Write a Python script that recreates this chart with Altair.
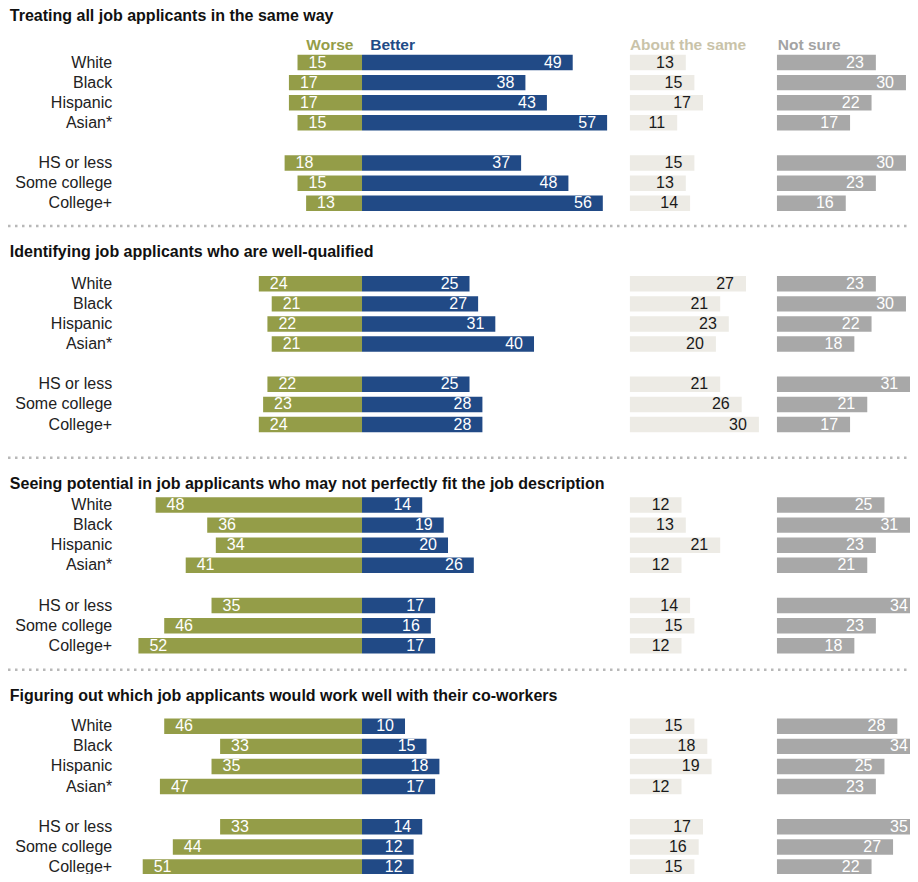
import altair as alt
import pandas as pd

# ---------------- data ----------------
SECTIONS = [
    "Treating all job applicants in the same way",
    "Identifying job applicants who are well-qualified",
    "Seeing potential in job applicants who may not perfectly fit the job description",
    "Figuring out which job applicants would work well with their co-workers",
]
GROUPS = ["White", "Black", "Hispanic", "Asian*", "HS or less", "Some college", "College+"]

WORSE = [
    [15, 17, 17, 15, 18, 15, 13],
    [24, 21, 22, 21, 22, 23, 24],
    [48, 36, 34, 41, 35, 46, 52],
    [46, 33, 35, 47, 33, 44, 51],
]
BETTER = [
    [49, 38, 43, 57, 37, 48, 56],
    [25, 27, 31, 40, 25, 28, 28],
    [14, 19, 20, 26, 17, 16, 17],
    [10, 15, 18, 17, 14, 12, 12],
]
ABOUT_SAME = [
    [13, 15, 17, 11, 15, 13, 14],
    [27, 21, 23, 20, 21, 26, 30],
    [12, 13, 21, 12, 14, 15, 12],
    [15, 18, 19, 12, 17, 16, 15],
]
NOT_SURE = [
    [23, 30, 22, 17, 30, 23, 16],
    [23, 30, 22, 18, 31, 21, 17],
    [25, 31, 23, 21, 34, 23, 18],
    [28, 34, 25, 23, 35, 27, 22],
]
HEADERS = ["Worse", "Better", "About the same", "Not sure"]

# ---------------- layout (half-row slot units / percentage units) ----------------
SECTION_BASE = [0, 22, 44, 66]
ROW_OFFSET = [0, 2, 4, 6, 10, 12, 14]
TITLE_OFFSET = [-4.63, -3.18, -2.13, -3.04]
HEADER_SLOT = -1.77
SEPARATOR_SLOTS = [16.26, 39.31, 60.39]
HALF_BAR = 0.77

XMIN, XMAX = -82.33, 127.44
YMIN, YMAX = -5.42, 80.69
ABOUT_START = 62.3
NOTSURE_START = 96.5
LABEL_X = -58.1
TITLE_X = -81.9

GREEN = "#949D48"
BLUE = "#214A86"
BEIGE = "#EDEBE5"
GRAY = "#A8A8A8"
FONT = "Liberation Sans"

W, H = 902, 866

rows = []
for s in range(4):
    for i, g in enumerate(GROUPS):
        a = ABOUT_SAME[s][i]
        n = NOT_SURE[s][i]
        slot = SECTION_BASE[s] + ROW_OFFSET[i]
        rows.append(dict(
            section=s, group=g, slot=slot,
            yt=slot - HALF_BAR, yb=slot + HALF_BAR,
            worse=WORSE[s][i], better=BETTER[s][i], about=a, notsure=n,
            w0=-WORSE[s][i], zero=0, b1=BETTER[s][i],
            a0=ABOUT_START, a1=ABOUT_START + a,
            n0=NOTSURE_START, n1=min(NOTSURE_START + n, XMAX),
            nl=min(NOTSURE_START + n, XMAX + 2.3),
            lx=LABEL_X,
        ))
df = pd.DataFrame(rows)

titles = pd.DataFrame(dict(
    title=SECTIONS,
    slot=[SECTION_BASE[s] + TITLE_OFFSET[s] for s in range(4)],
    tx=[TITLE_X] * 4,
))
HDR_X = [-2.0, 1.9, ABOUT_START, NOTSURE_START + 0.2]
HDR_ALIGN = ["right", "left", "left", "left"]
HDR_COLOR = [GREEN, BLUE, "#C9C3A9", "#A3A3A3"]
seps = pd.DataFrame(dict(slot=SEPARATOR_SLOTS, x0=[XMIN] * 3, x1=[XMAX] * 3))

xs = alt.Scale(domain=[XMIN, XMAX], nice=False, zero=False)
ys = alt.Scale(domain=[YMIN, YMAX], nice=False, zero=False, reverse=True)
Y = alt.Y("slot:Q", scale=ys, axis=None)
YT = alt.Y("yt:Q", scale=ys, axis=None)


def X(f):
    return alt.X(f + ":Q", scale=xs, axis=None)


base = alt.Chart(df)

worse_bar = base.mark_rect(color=GREEN).encode(x=X("w0"), x2="zero:Q", y=YT, y2="yb:Q")
better_bar = base.mark_rect(color=BLUE).encode(x=X("zero"), x2="b1:Q", y=YT, y2="yb:Q")
about_bar = base.mark_rect(color=BEIGE).encode(x=X("a0"), x2="a1:Q", y=YT, y2="yb:Q")
ns_bar = base.mark_rect(color=GRAY).encode(x=X("n0"), x2="n1:Q", y=YT, y2="yb:Q")

NUM = dict(font=FONT, fontSize=16, baseline="middle")
worse_txt = base.mark_text(align="left", dx=11, color="white", **NUM).encode(
    x=X("w0"), y=Y, text="worse:Q")
better_txt = base.mark_text(align="right", dx=-11, color="white", **NUM).encode(
    x=X("b1"), y=Y, text="better:Q")
about_txt = base.mark_text(align="right", dx=-12, color="#1a1a1a", **NUM).encode(
    x=X("a1"), y=Y, text="about:Q")
ns_txt = base.mark_text(align="right", dx=-12, color="white", **NUM).encode(
    x=X("nl"), y=Y, text="notsure:Q")

row_lbl = base.mark_text(align="right", baseline="middle", font=FONT, fontSize=16,
                         color="#222222").encode(x=X("lx"), y=Y, text="group:N")

title_txt = alt.Chart(titles).mark_text(align="left", baseline="middle", font=FONT,
                                        fontSize=16, fontWeight="bold",
                                        color="#111111").encode(
    x=X("tx"), y=Y, text="title:N")

hdr_layers = []
for k in range(4):
    hdf = pd.DataFrame(dict(text=[HEADERS[k]], x=[HDR_X[k]], slot=[HEADER_SLOT]))
    hdr_layers.append(
        alt.Chart(hdf).mark_text(
            align=HDR_ALIGN[k], baseline="middle", font=FONT, fontSize=15.5,
            fontWeight="bold", color=HDR_COLOR[k]).encode(
            x=X("x"), y=Y, text="text:N"))

sep = alt.Chart(seps).mark_rule(color="#B8B8B8", strokeWidth=2.5,
                                strokeDash=[2.5, 4.5]).encode(
    x=X("x0"), x2="x1:Q", y=Y)

chart = alt.layer(
    sep, worse_bar, better_bar, about_bar, ns_bar,
    worse_txt, better_txt, about_txt, ns_txt,
    row_lbl, title_txt, *hdr_layers,
).properties(
    width=W, height=H, padding=0,
    autosize=alt.AutoSizeParams(type="none"),
).configure_view(stroke=None)

chart.save("out.html", embed_options={"renderer": "svg", "actions": False})
